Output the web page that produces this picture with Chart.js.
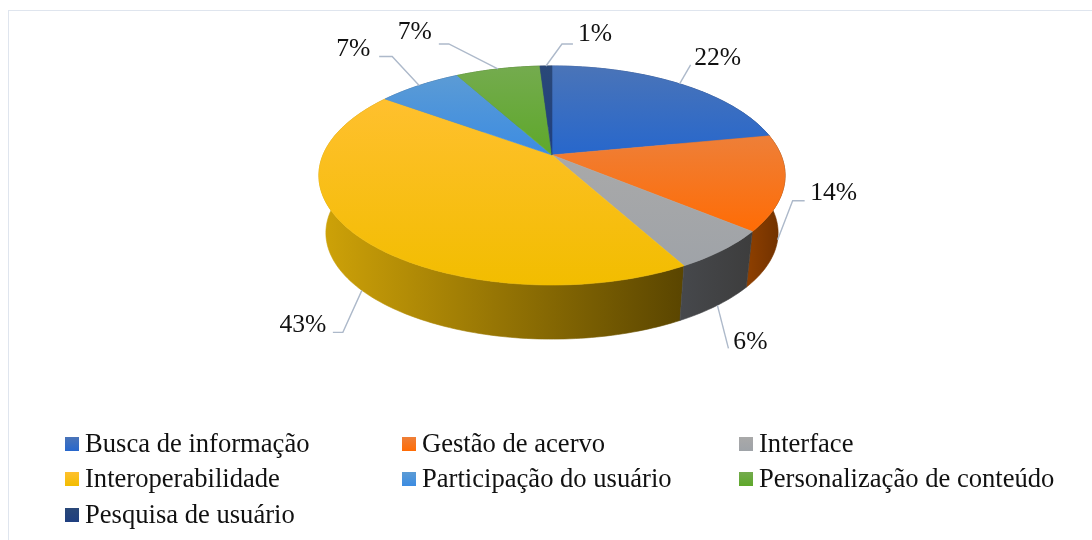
<!DOCTYPE html>
<html>
<head>
<meta charset="utf-8">
<style>
html, body { margin: 0; padding: 0; background: #fff; }
#frame { position: absolute; left: 8px; top: 10px; right: 0; bottom: 0; border-top: 1.5px solid #dfe5ee; border-left: 1.5px solid #dfe5ee; }
#wrap { position: absolute; left: 0; top: 0; width: 1092px; height: 540px; }
</style>
<script src="https://cdn.jsdelivr.net/npm/chart.js@4/dist/chart.umd.min.js"></script>
</head>
<body>
<div id="frame"></div>
<div id="wrap"><canvas id="pie_chart" width="1092" height="540"></canvas></div>
<script>
const categories = [
    "Busca de informação",
    "Gestão de acervo",
    "Interface",
    "Interoperabilidade",
    "Participação do usuário",
    "Personalização de conteúdo",
    "Pesquisa de usuário"
];
const shares = [22, 14, 6, 43, 7, 7, 1];

// colours: top of slice, bottom of slice, wall left, wall right
const topLight = ["#4a74b8", "#ee7f38", "#a9a9a9", "#ffc02e", "#5b9bd5", "#74ab4e", "#2a4878"];
const topDark = ["#2767cc", "#ff6c05", "#9fa3a8", "#f2bd00", "#3c8ce2", "#5ea82a", "#1f3f80"];
const wallLeft = ["#2a4a85", "#8f4000", "#46484c", "#cfa308", "#2f6190", "#406f22", "#16294d"];
const wallRight = ["#1d3560", "#6c2f00", "#3d3d3d", "#5a4500", "#234a70", "#30551a", "#101f3a"];

// label placement relative to the rim point of the slice: elbow, line end, text centre
const labelElbow = [[11, -19], [15, -39], [11, 43], [-19, 42], [-27, -29], [-49, -25], [16, -22]];
const labelEnd = [[11, -19], [27, -39], [11, 43], [-29, 42], [-40, -29], [-59, -25], [27, -22]];
const labelText = [[38, -27], [56, -47], [33, 36], [-59, 34], [-66, -37], [-83, -38], [49, -33]];

const legendCols = [65, 402, 739];
const legendRows = [444, 479, 515];

const serif = '"Liberation Serif", "Times New Roman", serif';
const squash = 0.4616;
const persp = 0.187;
const lift = -74;
const wallDrop = 58;
const wallScale = 0.97;

function rimPoint(arc, angle, onFloor) {
    const u = Math.cos(angle);
    const v = Math.sin(angle);
    const w = 1 - persp * v;
    const s = onFloor ? wallScale : 1;
    const drop = onFloor ? wallDrop : 0;
    return {
        x: arc.x + s * arc.outerRadius * u / w,
        y: arc.y + lift + drop + s * arc.outerRadius * squash * v / w
    };
}

function sampleAngles(arc) {
    const list = [];
    const steps = Math.max(2, Math.ceil((arc.endAngle - arc.startAngle) / 0.02));
    for (let i = 0; i <= steps; i++) {
        list.push(arc.startAngle + (arc.endAngle - arc.startAngle) * i / steps);
    }
    return list;
}

const pie3d = {
    id: "pie3d",
    beforeDatasetsDraw(chart) {
        const ctx = chart.ctx;
        const arcs = chart.getDatasetMeta(0).data;

        // walls, back ones first
        const order = arcs.map((a, i) => i).sort((p, q) =>
            Math.sin((arcs[p].startAngle + arcs[p].endAngle) / 2) - Math.sin((arcs[q].startAngle + arcs[q].endAngle) / 2));
        order.forEach(i => {
            const arc = arcs[i];
            const angles = sampleAngles(arc);
            const upper = angles.map(a => rimPoint(arc, a, false));
            const lower = angles.map(a => rimPoint(arc, a, true));
            const xs = upper.concat(lower).map(p => p.x);
            const grad = ctx.createLinearGradient(Math.min(...xs), 0, Math.max(...xs), 0);
            grad.addColorStop(0, wallLeft[i]);
            grad.addColorStop(1, wallRight[i]);
            ctx.beginPath();
            upper.forEach((p, n) => n ? ctx.lineTo(p.x, p.y) : ctx.moveTo(p.x, p.y));
            lower.reverse().forEach(p => ctx.lineTo(p.x, p.y));
            ctx.closePath();
            ctx.fillStyle = grad;
            ctx.strokeStyle = grad;
            ctx.lineWidth = 0.6;
            ctx.fill();
            ctx.stroke();
        });

        // top face
        arcs.forEach((arc, i) => {
            const pts = sampleAngles(arc).map(a => rimPoint(arc, a, false));
            const apexY = arc.y + lift;
            const ys = pts.map(p => p.y).concat([apexY]);
            const grad = ctx.createLinearGradient(0, Math.min(...ys), 0, Math.max(...ys));
            grad.addColorStop(0, topLight[i]);
            grad.addColorStop(1, topDark[i]);
            ctx.beginPath();
            ctx.moveTo(arc.x, apexY);
            pts.forEach(p => ctx.lineTo(p.x, p.y));
            ctx.closePath();
            ctx.fillStyle = grad;
            ctx.strokeStyle = grad;
            ctx.lineWidth = 0.6;
            ctx.fill();
            ctx.stroke();
        });

        // leader lines and percentages
        ctx.font = "25.6px " + serif;
        ctx.textAlign = "center";
        ctx.textBaseline = "middle";
        arcs.forEach((arc, i) => {
            const mid = (arc.startAngle + arc.endAngle) / 2;
            const anchor = rimPoint(arc, mid, Math.sin(mid) > 0);
            ctx.beginPath();
            ctx.moveTo(anchor.x, anchor.y);
            ctx.lineTo(anchor.x + labelElbow[i][0], anchor.y + labelElbow[i][1]);
            ctx.lineTo(anchor.x + labelEnd[i][0], anchor.y + labelEnd[i][1]);
            ctx.strokeStyle = "#adb9ca";
            ctx.lineWidth = 1.4;
            ctx.stroke();
            ctx.fillStyle = "#111";
            ctx.fillText(shares[i] + "%", anchor.x + labelText[i][0], anchor.y + labelText[i][1] + 1);
        });

        // legend
        ctx.font = "26.6px " + serif;
        ctx.textAlign = "left";
        categories.forEach((name, i) => {
            const x = legendCols[i % 3];
            const y = legendRows[Math.floor(i / 3)];
            const grad = ctx.createLinearGradient(0, y - 7, 0, y + 7);
            grad.addColorStop(0, topLight[i]);
            grad.addColorStop(1, topDark[i]);
            ctx.fillStyle = grad;
            ctx.fillRect(x, y - 7, 14, 14);
            ctx.fillStyle = "#111";
            ctx.fillText(name, x + 20, y + 1);
        });
        return false;
    }
};

const config_pie = {
    type: "pie",
    data: {
        labels: categories,
        datasets: [{ label: "share", data: shares, backgroundColor: topLight, borderWidth: 0 }]
    },
    options: {
        responsive: false,
        animation: false,
        layout: { padding: { left: 12, bottom: 82 } },
        plugins: { legend: { display: false }, tooltip: { enabled: false } }
    },
    plugins: [pie3d]
};

const ctx_pie = document.getElementById("pie_chart").getContext("2d");
const myChart_pie = new Chart(ctx_pie, config_pie);
</script>
</body>
</html>
